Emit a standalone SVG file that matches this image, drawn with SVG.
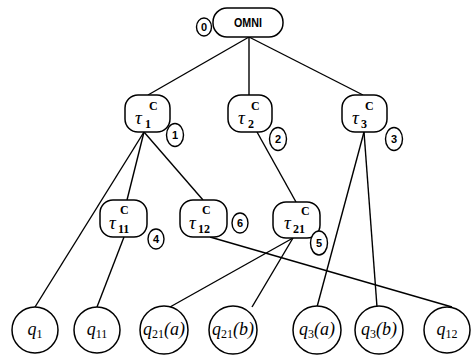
<svg xmlns="http://www.w3.org/2000/svg" width="472" height="356" viewBox="0 0 472 356">
  <style>
    .box { fill: #fff; stroke: #000; stroke-width: 1.5; }
    .leaf { fill: #fff; stroke: #000; stroke-width: 1.5; }
    .tag { fill: #fff; stroke: #000; stroke-width: 1.4; }
    .tagtxt { font-family: "Liberation Sans", Arial, sans-serif; font-size: 11px; font-weight: bold; text-anchor: middle; }
    .omni { font-family: "Liberation Sans", Arial, sans-serif; font-size: 12px; font-weight: bold; text-anchor: middle; }
    .tau { font-family: "Liberation Serif", "Times New Roman", serif; font-style: italic; font-size: 19px; }
    .sup { font-family: "Liberation Serif", "Times New Roman", serif; font-size: 12px; font-weight: bold; }
    .sub { font-family: "Liberation Serif", "Times New Roman", serif; font-size: 12px; font-weight: bold; }
    .q { font-family: "Liberation Serif", "Times New Roman", serif; font-style: italic; font-size: 18px; text-anchor: middle; }
    .edges line { stroke: #000; stroke-width: 1.4; }
  </style>

  <g id="connectors" class="edges">
    <line x1="249" y1="37" x2="148" y2="95"/>
    <line x1="249" y1="37" x2="249" y2="95"/>
    <line x1="249" y1="37" x2="363" y2="95"/>
    <line x1="144" y1="132" x2="35" y2="307"/>
    <line x1="144" y1="132" x2="127" y2="200"/>
    <line x1="144" y1="132" x2="203" y2="200"/>
    <line x1="124" y1="237" x2="97" y2="307"/>
    <line x1="210" y1="237" x2="452" y2="307"/>
    <line x1="257" y1="132" x2="296" y2="202"/>
    <line x1="293" y1="238" x2="170" y2="307"/>
    <line x1="293" y1="238" x2="252" y2="307"/>
    <line x1="364" y1="132" x2="317" y2="307"/>
    <line x1="364" y1="132" x2="377" y2="307"/>
  </g>

  <g id="n0">
    <rect class="box" x="213" y="8" width="70" height="29" rx="14"/>
    <text class="omni" x="248" y="27" textLength="28" lengthAdjust="spacingAndGlyphs">OMNI</text>
    <ellipse class="tag" cx="204" cy="27" rx="7.5" ry="9"/>
    <text class="tagtxt" x="204" y="31">0</text>
  </g>

  <g id="n1">
    <rect class="box" x="125" y="95" width="45" height="37" rx="13"/>
    <text class="tau" x="135" y="124">τ</text>
    <text class="sup" x="149" y="110">C</text>
    <text class="sub" x="145" y="128">1</text>
    <ellipse class="tag" cx="175" cy="135" rx="8.5" ry="11.5"/>
    <text class="tagtxt" x="175" y="139">1</text>
  </g>

  <g id="n2">
    <rect class="box" x="228" y="95" width="44" height="37" rx="13"/>
    <text class="tau" x="238" y="124">τ</text>
    <text class="sup" x="251" y="110">C</text>
    <text class="sub" x="248" y="128">2</text>
    <ellipse class="tag" cx="278" cy="139" rx="8.5" ry="11.5"/>
    <text class="tagtxt" x="278" y="143">2</text>
  </g>

  <g id="n3">
    <rect class="box" x="342" y="95" width="45" height="37" rx="13"/>
    <text class="tau" x="352" y="124">τ</text>
    <text class="sup" x="365" y="110">C</text>
    <text class="sub" x="361" y="128">3</text>
    <ellipse class="tag" cx="394" cy="139" rx="8.5" ry="11.5"/>
    <text class="tagtxt" x="394" y="143">3</text>
  </g>

  <g id="n4">
    <rect class="box" x="100" y="200" width="47" height="37" rx="13"/>
    <text class="tau" x="109" y="229">τ</text>
    <text class="sup" x="120" y="214">C</text>
    <text class="sub" x="118" y="233">11</text>
    <ellipse class="tag" cx="156" cy="239" rx="8" ry="10"/>
    <text class="tagtxt" x="156" y="243">4</text>
  </g>

  <g id="n6">
    <rect class="box" x="180" y="200" width="47" height="37" rx="13"/>
    <text class="tau" x="189" y="229">τ</text>
    <text class="sup" x="202" y="214">C</text>
    <text class="sub" x="198" y="233">12</text>
    <ellipse class="tag" cx="240" cy="223" rx="8" ry="10"/>
    <text class="tagtxt" x="240" y="227">6</text>
  </g>

  <g id="n5">
    <rect class="box" x="273" y="202" width="47" height="36" rx="13"/>
    <text class="tau" x="284" y="229">τ</text>
    <text class="sup" x="301" y="215">C</text>
    <text class="sub" x="293" y="233">21</text>
    <ellipse class="tag" cx="319" cy="243" rx="8.5" ry="12"/>
    <text class="tagtxt" x="319" y="247">5</text>
  </g>

  <g id="q1">
    <circle class="leaf" cx="35" cy="330" r="23"/>
    <text class="q" x="35" y="335">q<tspan font-size="12" font-style="normal" dy="3">1</tspan></text>
  </g>
  <g id="q11">
    <circle class="leaf" cx="97" cy="330" r="23"/>
    <text class="q" x="97" y="335">q<tspan font-size="12" font-style="normal" dy="3">11</tspan></text>
  </g>
  <g id="q21a">
    <circle class="leaf" cx="164" cy="330" r="24"/>
    <text class="q" x="164" y="335">q<tspan font-size="12" font-style="normal" dy="3">21</tspan><tspan dy="-3">(a)</tspan></text>
  </g>
  <g id="q21b">
    <circle class="leaf" cx="233" cy="330" r="24"/>
    <text class="q" x="233" y="335">q<tspan font-size="12" font-style="normal" dy="3">21</tspan><tspan dy="-3">(b)</tspan></text>
  </g>
  <g id="q3a">
    <circle class="leaf" cx="317" cy="330" r="24"/>
    <text class="q" x="317" y="335">q<tspan font-size="12" font-style="normal" dy="3">3</tspan><tspan dy="-3">(a)</tspan></text>
  </g>
  <g id="q3b">
    <circle class="leaf" cx="379" cy="330" r="24"/>
    <text class="q" x="379" y="335">q<tspan font-size="12" font-style="normal" dy="3">3</tspan><tspan dy="-3">(b)</tspan></text>
  </g>
  <g id="q12">
    <circle class="leaf" cx="447" cy="330" r="23"/>
    <text class="q" x="447" y="335">q<tspan font-size="12" font-style="normal" dy="3">12</tspan></text>
  </g>
</svg>
